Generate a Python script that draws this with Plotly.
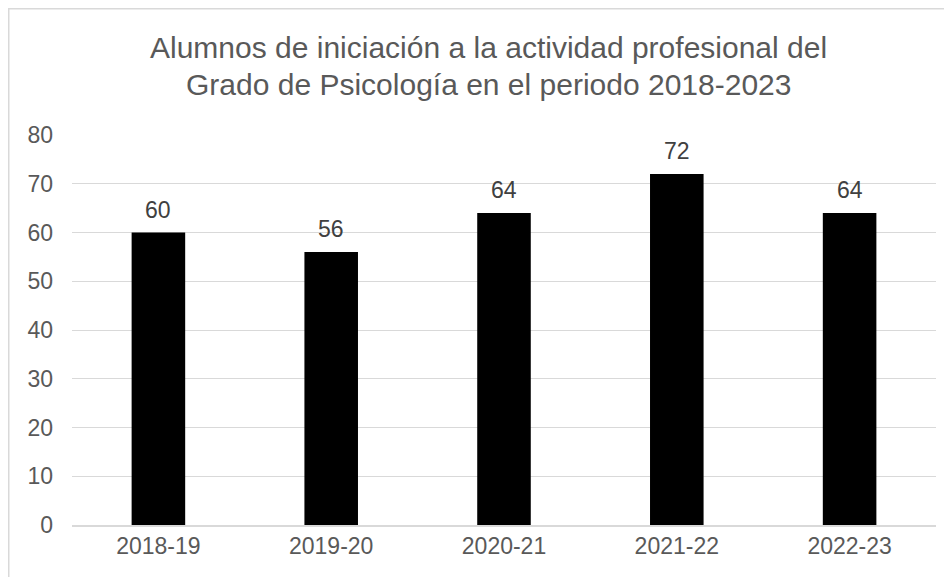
import plotly.graph_objects as go

cursos = ["2018-19", "2019-20", "2020-21", "2021-22", "2022-23"]
alumnos = [60, 56, 64, 72, 64]
y_ticks = [0, 10, 20, 30, 40, 50, 60, 70, 80]
titulo = ["Alumnos de iniciación a la actividad profesional del",
          "Grado de Psicología en el periodo 2018-2023"]

# page has an 8px body margin, so the figure is a bit smaller than the window
W, H = 944, 569
L, R, T, B = 64, 16, 127, 52
plot_h = H - T - B
plot_w = W - L - R

fig = go.Figure(go.Bar(
    x=cursos, y=alumnos,
    marker=dict(color="#000000", line=dict(width=0)),
    width=0.31,
))

# title as two annotations so each line sits where it does in the original
anns = []
for linea, fy in zip(titulo, [40, 76]):
    anns.append(dict(text=linea, xref="paper", yref="paper",
                     x=(480 - L) / plot_w, y=(H - B - fy) / plot_h,
                     xanchor="center", yanchor="middle", showarrow=False,
                     font=dict(size=30, color="#595959")))

# data labels a little above each bar
for c, v in zip(cursos, alumnos):
    anns.append(dict(text=str(v), x=c, y=v, xref="x", yref="y",
                     xanchor="center", yanchor="bottom", yshift=8,
                     showarrow=False, font=dict(size=23, color="#404040")))

fig.update_layout(
    width=W, height=H,
    margin=dict(l=L, r=R, t=T, b=B),
    paper_bgcolor="white", plot_bgcolor="white",
    font=dict(family="Liberation Sans, Arial, sans-serif", size=23, color="#595959"),
    showlegend=False,
    annotations=anns,
    xaxis=dict(showgrid=False, showline=True, linecolor="#d9d9d9", linewidth=1.5,
               ticks="", tickfont=dict(size=23, color="#595959")),
    yaxis=dict(range=[0, 80], tickvals=y_ticks, showgrid=True, gridcolor="#d9d9d9",
               gridwidth=1, zeroline=False, showline=False, ticks="",
               ticklabelstandoff=18, tickfont=dict(size=23, color="#595959")),
    shapes=[dict(type="rect", xref="paper", yref="paper",
                 x0=(0.75 - L) / plot_w, x1=1.2, y0=-0.3, y1=(H - B - 0.75) / plot_h,
                 line=dict(color="#d9d9d9", width=1.5), fillcolor="rgba(0,0,0,0)",
                 layer="below")],
)

fig.write_html("out.html")
